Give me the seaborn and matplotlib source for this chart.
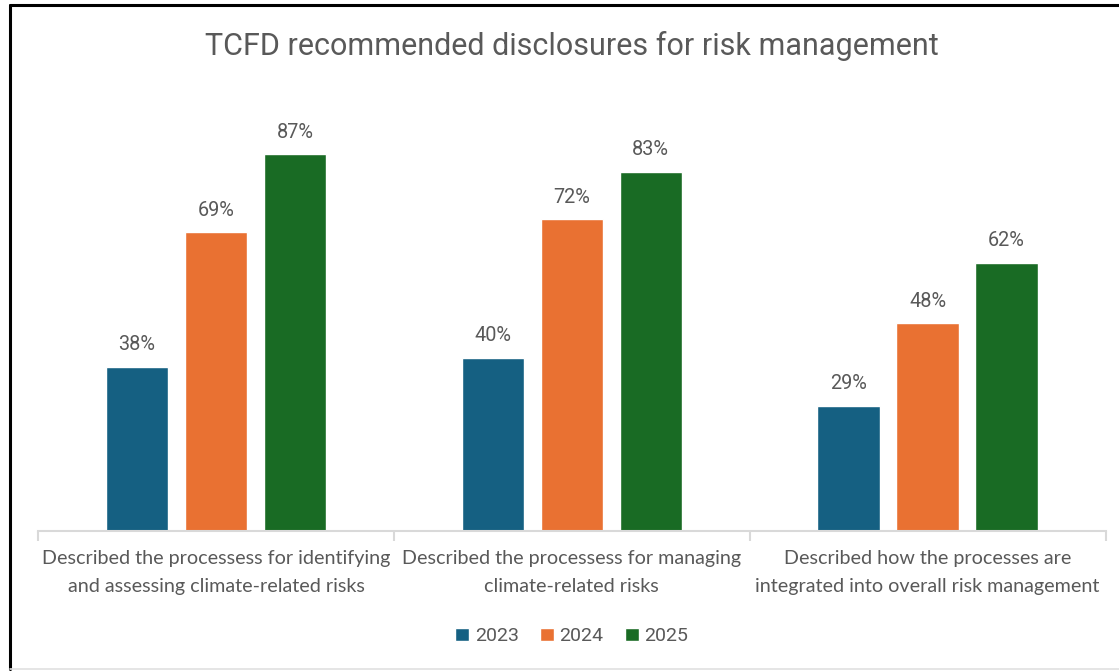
import matplotlib
matplotlib.use("Agg")
import matplotlib.pyplot as plt
from matplotlib.lines import Line2D
import pandas as pd
import seaborn as sns

# Chart data
categories = [
    "Described the processess for identifying\nand assessing climate-related risks",
    "Described the processess for managing\nclimate-related risks",
    "Described how the processes are\nintegrated into overall risk management",
]
years = ["2023", "2024", "2025"]
share_2023 = [38, 40, 29]
share_2024 = [69, 72, 48]
share_2025 = [87, 83, 62]

colors = ["#156082", "#E97132", "#196B24"]
text_gray = "#595959"

df = pd.DataFrame({
    "category": categories * 3,
    "year": [y for y in years for _ in categories],
    "value": share_2023 + share_2024 + share_2025,
})

sns.set_theme(style="white")
plt.rcParams["font.family"] = ["Lato", "DejaVu Sans"]

fig = plt.figure(figsize=(11.19, 6.71), dpi=100)
ax = fig.add_axes([0.034, 0.2086, 0.954, 0.645])

sns.barplot(data=df, x="category", y="value", hue="year",
            palette=colors, width=0.666, gap=0.21, saturation=1,
            ax=ax)

# data labels above each bar
for c in ax.containers:
    ax.bar_label(c, labels=[f"{v:.0f}%" for v in c.datavalues],
                 padding=9, color=text_gray, fontsize=14.3,
                 family=["Roboto", "DejaVu Sans"])

ax.set_ylim(0, 100)
ax.set_xlim(-0.5, 2.5)
ax.set_xlabel("")
ax.set_ylabel("")
ax.set_yticks([])
ax.set_xticks([-0.5, 0.5, 1.5, 2.5], minor=True)
ax.tick_params(axis="x", which="major", length=0, pad=14,
               labelsize=14.2, labelcolor=text_gray)
ax.tick_params(axis="x", which="minor", length=7, width=1.5,
               color="#D9D9D9", bottom=True)
for lbl in ax.get_xticklabels():
    lbl.set_linespacing(1.78)
for s in ["top", "right", "left"]:
    ax.spines[s].set_visible(False)
ax.spines["bottom"].set_color("#D9D9D9")
ax.spines["bottom"].set_linewidth(1.5)

ax.set_title("TCFD recommended disclosures for risk management",
             fontsize=22, color=text_gray, pad=31,
             family=["Roboto", "DejaVu Sans"])

leg = ax.legend(loc="center", bbox_to_anchor=(0.5, -0.243),
                ncol=3, frameon=False, handlelength=0.7,
                handleheight=0.7, handletextpad=0.3, columnspacing=1.1,
                prop={"family": ["Roboto", "DejaVu Sans"], "size": 14})
for t in leg.get_texts():
    t.set_color(text_gray)

# chart border
fig.add_artist(Line2D([10 / 1119, 10 / 1119], [0.003, 1 - 5 / 671],
                      transform=fig.transFigure, color="black", lw=2.2))
fig.add_artist(Line2D([10 / 1119, 1.0], [1 - 5 / 671, 1 - 5 / 671],
                      transform=fig.transFigure, color="black", lw=2.2))
fig.add_artist(Line2D([10 / 1119, 1.0], [0.003, 0.003],
                      transform=fig.transFigure, color="#E0E0E0", lw=1.2))

fig.savefig("out.png", dpi=100)
